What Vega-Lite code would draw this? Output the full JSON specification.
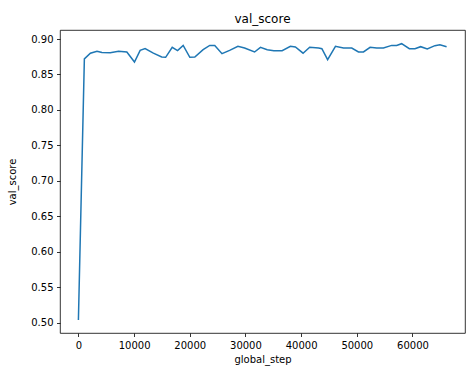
{
  "$schema": "https://vega.github.io/schema/vega-lite/v6.json",
  "width": 405,
  "height": 303,
  "autosize": {"type": "none"},
  "padding": {"left": 60, "top": 30, "right": 1, "bottom": 36},
  "background": "white",
  "title": {"text": "val_score", "fontSize": 12, "fontWeight": "normal", "font": "DejaVu Sans", "color": "#000", "offset": 4},
  "config": {
    "view": {"stroke": "#000", "strokeWidth": 0.8},
    "axis": {"grid": false, "domain": false, "tickColor": "#000", "tickSize": 3.5, "tickWidth": 0.8, "labelFont": "DejaVu Sans", "labelFontSize": 10, "labelColor": "#000", "titleFont": "DejaVu Sans", "titleFontSize": 10, "titleFontWeight": "normal", "titleColor": "#000", "labelPadding": 3.5}
  },
  "data": {"values": [
    {"global_step": 0, "val_score": 0.5037},
    {"global_step": 1070, "val_score": 0.872},
    {"global_step": 2150, "val_score": 0.880},
    {"global_step": 3340, "val_score": 0.8827},
    {"global_step": 4230, "val_score": 0.881},
    {"global_step": 5720, "val_score": 0.8807},
    {"global_step": 7210, "val_score": 0.8827},
    {"global_step": 8700, "val_score": 0.8817},
    {"global_step": 10070, "val_score": 0.8676},
    {"global_step": 11090, "val_score": 0.884},
    {"global_step": 11980, "val_score": 0.8864},
    {"global_step": 13460, "val_score": 0.880},
    {"global_step": 14960, "val_score": 0.8746},
    {"global_step": 15670, "val_score": 0.8742},
    {"global_step": 16850, "val_score": 0.8883},
    {"global_step": 17810, "val_score": 0.8836},
    {"global_step": 18820, "val_score": 0.891},
    {"global_step": 20010, "val_score": 0.8742},
    {"global_step": 20910, "val_score": 0.8746},
    {"global_step": 22400, "val_score": 0.885},
    {"global_step": 23590, "val_score": 0.891},
    {"global_step": 24490, "val_score": 0.891},
    {"global_step": 25790, "val_score": 0.8793},
    {"global_step": 27160, "val_score": 0.884},
    {"global_step": 28650, "val_score": 0.8897},
    {"global_step": 29850, "val_score": 0.8873},
    {"global_step": 31640, "val_score": 0.8817},
    {"global_step": 32700, "val_score": 0.8883},
    {"global_step": 33910, "val_score": 0.885},
    {"global_step": 35100, "val_score": 0.8836},
    {"global_step": 36590, "val_score": 0.8836},
    {"global_step": 38080, "val_score": 0.8897},
    {"global_step": 38970, "val_score": 0.8887},
    {"global_step": 40350, "val_score": 0.880},
    {"global_step": 41540, "val_score": 0.8883},
    {"global_step": 43150, "val_score": 0.8873},
    {"global_step": 43730, "val_score": 0.8864},
    {"global_step": 44760, "val_score": 0.8709},
    {"global_step": 46170, "val_score": 0.8897},
    {"global_step": 47610, "val_score": 0.8873},
    {"global_step": 49100, "val_score": 0.8873},
    {"global_step": 50300, "val_score": 0.8817},
    {"global_step": 51200, "val_score": 0.8817},
    {"global_step": 52390, "val_score": 0.8883},
    {"global_step": 53580, "val_score": 0.8873},
    {"global_step": 54780, "val_score": 0.8873},
    {"global_step": 56270, "val_score": 0.891},
    {"global_step": 57160, "val_score": 0.891},
    {"global_step": 58050, "val_score": 0.8934},
    {"global_step": 59440, "val_score": 0.8864},
    {"global_step": 60450, "val_score": 0.8864},
    {"global_step": 61470, "val_score": 0.8892},
    {"global_step": 62660, "val_score": 0.886},
    {"global_step": 64030, "val_score": 0.8906},
    {"global_step": 64930, "val_score": 0.892},
    {"global_step": 66130, "val_score": 0.8892}
  ]},
  "mark": {"type": "line", "color": "#1f77b4", "strokeWidth": 1.5, "clip": true},
  "encoding": {
    "x": {"field": "global_step", "type": "quantitative", "title": "global_step",
      "scale": {"domain": [-3306, 69436], "nice": false, "zero": false},
      "axis": {"values": [0, 10000, 20000, 30000, 40000, 50000, 60000], "format": "d", "titlePadding": 4}},
    "y": {"field": "val_score", "type": "quantitative", "title": "val_score",
      "scale": {"domain": [0.4855, 0.9127], "nice": false, "zero": false},
      "axis": {"values": [0.5, 0.55, 0.6, 0.65, 0.7, 0.75, 0.8, 0.85, 0.9], "format": ".2f", "titlePadding": 13}}
  }
}
